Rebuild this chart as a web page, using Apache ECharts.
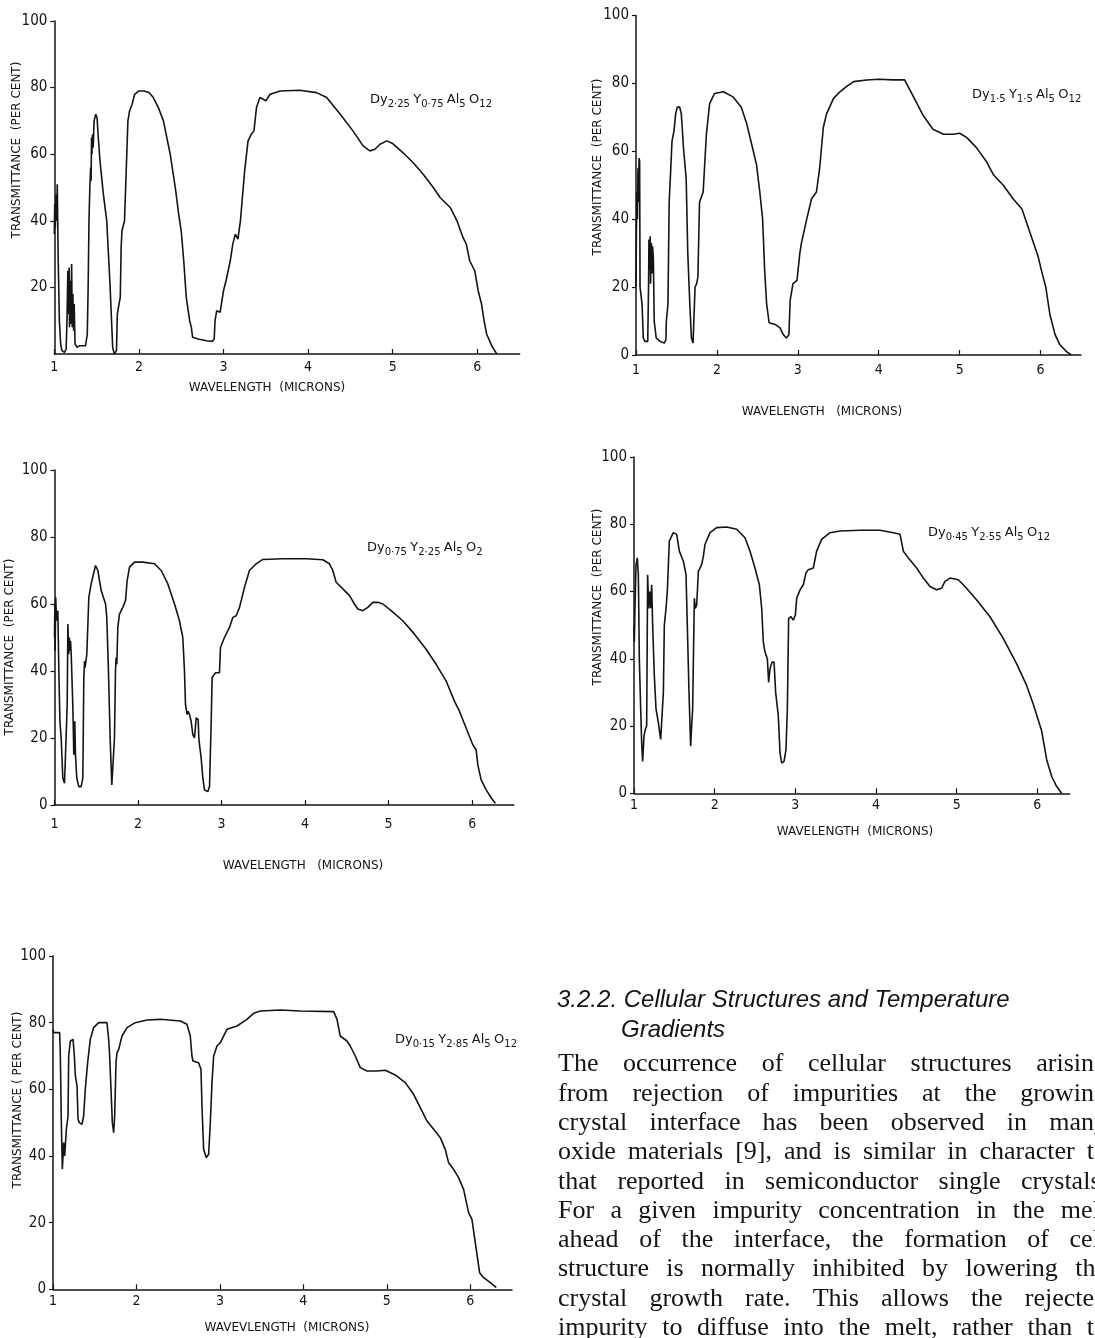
<!DOCTYPE html>
<html><head><meta charset="utf-8">
<script src="https://cdn.jsdelivr.net/npm/echarts@6/dist/echarts.min.js"></script>
<style>html,body{margin:0;padding:0;background:#fff}#c{width:1095px;height:1338px}</style>
</head><body><div id="c"></div>
<script>
// ---------- DATA ----------
const xTicks = [1, 2, 3, 4, 5, 6];
const yTicks = [0, 20, 40, 60, 80, 100];
const yTicksNoZero = [20, 40, 60, 80, 100];

// Dy2.25 Y0.75 Al5 O12  [wavelength (microns), transmittance (%)]
const dy225 = [[1.0,36],[1.005,45],[1.012,38],[1.02,48],[1.028,40],[1.035,51],[1.045,30],[1.06,10],[1.075,3],[1.09,1],[1.12,0.5],[1.14,1.5],[1.15,10],[1.16,25],[1.165,12],[1.175,26],[1.18,8],[1.19,22],[1.195,9],[1.205,27],[1.212,8],[1.22,18],[1.228,7],[1.235,15],[1.245,3],[1.27,2],[1.3,2.5],[1.37,2.5],[1.39,6],[1.40,20],[1.41,40],[1.42,50],[1.43,56],[1.435,52],[1.44,65],[1.445,60],[1.452,66],[1.46,62],[1.47,70],[1.49,72],[1.505,71],[1.52,65],[1.54,58],[1.58,48],[1.62,40],[1.64,30],[1.66,20],[1.68,8],[1.69,2],[1.71,0],[1.735,1],[1.745,12],[1.765,15],[1.78,17],[1.79,32],[1.80,37],[1.83,40],[1.85,55],[1.87,70],[1.89,73],[1.92,75],[1.95,78],[2.0,79],[2.06,79],[2.12,78.5],[2.17,77],[2.23,74],[2.29,70],[2.33,65],[2.37,60],[2.43,50],[2.47,42],[2.5,37],[2.53,28],[2.56,17],[2.6,10],[2.62,8],[2.635,5],[2.7,4.5],[2.8,4],[2.87,3.8],[2.89,4.5],[2.9,10],[2.92,13],[2.96,12.5],[2.98,12.5],[3.0,19],[3.03,22],[3.08,28],[3.11,33],[3.14,36],[3.17,34.5],[3.2,40],[3.25,55],[3.29,64],[3.33,66],[3.36,67],[3.39,74],[3.43,77],[3.47,76.5],[3.50,76],[3.55,78],[3.67,79],[3.9,79.2],[4.1,78.5],[4.22,77],[4.3,74.5],[4.38,72],[4.53,67],[4.65,62.5],[4.73,61],[4.79,61.5],[4.85,63],[4.93,64],[5.0,63.2],[5.12,60.5],[5.24,57.5],[5.36,54],[5.48,50],[5.56,47],[5.68,44],[5.76,40],[5.83,35],[5.87,33],[5.91,28],[5.97,25],[6.01,19],[6.05,15],[6.08,10],[6.11,6],[6.17,2.5],[6.23,0]];

// Dy1.5 Y1.5 Al5 O12
const dy15 = [[1.0,20],[1.005,36],[1.012,48],[1.018,40],[1.025,55],[1.03,45],[1.038,58],[1.045,57],[1.05,20],[1.06,18],[1.075,15],[1.09,5],[1.11,4],[1.145,4],[1.155,20],[1.16,34],[1.168,25],[1.175,35],[1.18,21],[1.19,33],[1.197,24],[1.205,32],[1.215,28],[1.225,10],[1.25,5],[1.3,4],[1.35,3.5],[1.37,4.5],[1.375,10],[1.395,15],[1.41,45],[1.43,55],[1.445,63],[1.47,66],[1.49,71],[1.51,73],[1.54,73],[1.56,71],[1.59,60],[1.62,52],[1.64,30],[1.665,15],[1.685,5],[1.705,3.5],[1.725,4],[1.73,20],[1.75,21],[1.765,23],[1.785,45],[1.83,48],[1.87,65],[1.91,74],[1.97,77],[2.08,77.5],[2.2,76],[2.3,73],[2.37,68],[2.43,62],[2.49,56],[2.53,48],[2.565,40],[2.59,25],[2.615,15],[2.645,9.5],[2.72,9],[2.78,8],[2.82,6],[2.86,5],[2.89,6],[2.905,16],[2.94,21],[2.99,22],[3.025,30],[3.045,33],[3.11,40],[3.17,46],[3.23,48],[3.27,55],[3.315,67],[3.355,71],[3.44,75.5],[3.52,77.5],[3.6,79],[3.69,80.5],[3.85,81],[4.0,81.2],[4.18,81],[4.32,81],[4.43,76],[4.55,70.5],[4.67,66.5],[4.8,65],[4.92,65],[5.0,65.3],[5.09,64],[5.21,61],[5.33,57],[5.42,53],[5.54,50],[5.66,46],[5.77,43],[5.87,36],[5.97,29],[6.01,25],[6.065,20],[6.115,12],[6.18,6],[6.24,3],[6.32,1],[6.38,0]];

// Dy0.75 Y2.25 Al5 O2
const dy075 = [[1.0,50],[1.004,60],[1.008,46],[1.014,62],[1.025,55],[1.04,58],[1.052,40],[1.065,25],[1.08,20],[1.10,8],[1.12,6.5],[1.14,7],[1.152,30],[1.16,54],[1.17,45],[1.178,50],[1.185,46],[1.192,49],[1.2,45],[1.219,30],[1.231,15],[1.243,25],[1.251,15],[1.267,8],[1.291,5.5],[1.319,5.5],[1.339,8],[1.351,38],[1.36,43],[1.365,41],[1.371,42],[1.387,45],[1.411,62],[1.439,66],[1.491,71.5],[1.519,70],[1.559,64],[1.611,60],[1.626,56],[1.646,40],[1.666,20],[1.686,6],[1.706,5.5],[1.718,20],[1.73,40],[1.738,44],[1.746,42],[1.758,53],[1.778,57],[1.818,59],[1.85,61],[1.87,67],[1.898,71],[1.958,72.5],[2.057,72.5],[2.197,72],[2.277,70],[2.357,66],[2.437,60],[2.496,55],[2.536,50],[2.556,40],[2.568,30],[2.588,27],[2.6,28],[2.616,27],[2.636,25],[2.656,21],[2.676,20],[2.696,26],[2.712,26],[2.72,25.5],[2.728,20],[2.736,18],[2.756,14],[2.776,8],[2.796,4.5],[2.836,4],[2.856,5.5],[2.876,25],[2.887,38],[2.927,39.5],[2.975,39.5],[2.987,47],[3.035,50],[3.095,53],[3.135,56],[3.175,56.5],[3.215,59],[3.275,65],[3.334,70],[3.414,72],[3.494,73.3],[3.733,73.5],[4.013,73.5],[4.212,73.2],[4.292,72],[4.332,70],[4.372,66.5],[4.452,64.5],[4.532,62.5],[4.591,60],[4.631,58.5],[4.691,58],[4.751,59],[4.811,60.5],[4.871,60.5],[4.931,60],[5.03,58],[5.17,55],[5.31,51],[5.449,46.5],[5.569,42],[5.689,37],[5.788,31],[5.848,28],[5.928,23],[6.008,18],[6.048,16.5],[6.068,12],[6.108,7.5],[6.168,4.5],[6.232,2],[6.279,0.5]];

// Dy0.45 Y2.55 Al5 O12
const dy045 = [[1.0,50],[1.004,45],[1.012,55],[1.025,68],[1.041,70],[1.054,65],[1.066,40],[1.083,25],[1.095,15],[1.107,9.5],[1.124,17],[1.14,19],[1.157,20],[1.165,50],[1.169,65],[1.182,55],[1.198,60],[1.207,55],[1.219,62],[1.231,50],[1.252,35],[1.273,25],[1.302,21],[1.331,16],[1.347,16.5],[1.364,30],[1.376,50],[1.397,55],[1.413,60],[1.438,75],[1.488,77.5],[1.529,77],[1.562,72],[1.612,69],[1.645,65],[1.661,50],[1.682,30],[1.702,14],[1.715,20],[1.727,25],[1.748,58],[1.76,55],[1.777,56],[1.798,66],[1.839,68],[1.86,70.5],[1.88,74],[1.942,77.5],[2.025,79],[2.149,79.2],[2.273,78.5],[2.376,76],[2.438,72],[2.5,67],[2.554,62],[2.583,55],[2.603,45],[2.624,42],[2.636,42.5],[2.653,40],[2.669,33],[2.686,37],[2.711,39],[2.736,39],[2.756,30],[2.789,23],[2.81,12],[2.831,9],[2.86,9.5],[2.884,13],[2.901,25],[2.917,52],[2.946,52.5],[2.975,51.5],[3.0,53],[3.017,58],[3.058,60.5],[3.099,62],[3.132,65.5],[3.161,66.5],[3.223,67],[3.264,72],[3.326,75.5],[3.43,77.5],[3.554,78],[3.802,78.2],[4.05,78.2],[4.215,77.5],[4.298,77],[4.339,72],[4.401,70],[4.504,67],[4.587,64],[4.669,61.5],[4.752,60.5],[4.814,61],[4.855,63],[4.917,64],[5.021,63.5],[5.103,61.5],[5.248,57.5],[5.413,52.5],[5.579,46],[5.744,38.5],[5.868,32],[5.95,26.5],[6.054,18.5],[6.116,10],[6.178,5],[6.24,2],[6.302,0]];

// Dy0.15 Y2.85 Al5 O12
const dy015 = [[1.0,78],[1.008,77],[1.08,77],[1.088,70],[1.1,50],[1.112,36],[1.128,44],[1.14,40],[1.16,48],[1.18,52],[1.188,70],[1.208,74.5],[1.24,75],[1.256,70],[1.268,64],[1.288,61],[1.3,51],[1.315,50],[1.347,49.5],[1.367,52],[1.387,60],[1.415,68],[1.447,75],[1.487,78.5],[1.547,80],[1.647,80],[1.667,75],[1.679,70],[1.695,60],[1.711,50],[1.727,47],[1.739,52],[1.755,68],[1.767,71],[1.787,72],[1.827,76],[1.887,78.5],[1.986,80],[2.126,80.8],[2.286,81],[2.526,80.5],[2.605,79.5],[2.645,76],[2.665,70],[2.677,68.5],[2.745,68],[2.773,66],[2.785,55],[2.805,42],[2.837,39.5],[2.865,40.5],[2.885,50],[2.905,62],[2.925,70],[2.965,73],[3.005,74],[3.085,78],[3.204,79],[3.324,81],[3.404,82.8],[3.484,83.5],[3.724,83.8],[3.963,83.5],[4.363,83.3],[4.403,81],[4.442,76],[4.522,74.5],[4.562,73],[4.622,70],[4.682,66.5],[4.762,65.5],[4.882,65.5],[4.982,65.7],[5.101,64.3],[5.221,62],[5.321,58.5],[5.401,54.5],[5.481,50.5],[5.561,48],[5.641,45.5],[5.7,42],[5.74,38],[5.8,36],[5.86,33.5],[5.92,30],[5.98,23],[6.02,21],[6.06,14],[6.112,5],[6.16,3.5],[6.24,2],[6.312,0.5]];

// formula labels: [element, subscript] pairs
const formula1 = [['Dy','2·25'],['Y','0·75'],['Al','5'],['O','12']];
const formula2 = [['Dy','1·5'],['Y','1·5'],['Al','5'],['O','12']];
const formula3 = [['Dy','0·75'],['Y','2·25'],['Al','5'],['O','2']];
const formula4 = [['Dy','0·45'],['Y','2·55'],['Al','5'],['O','12']];
const formula5 = [['Dy','0·15'],['Y','2·85'],['Al','5'],['O','12']];

const xNames = ['WAVELENGTH  (MICRONS)','WAVELENGTH   (MICRONS)','WAVELENGTH   (MICRONS)','WAVELENGTH  (MICRONS)','WAVEVLENGTH  (MICRONS)'];
const yNames = ['TRANSMITTANCE  (PER CENT)','TRANSMITTANCE  (PER CENT)','TRANSMITTANCE  (PER CENT)','TRANSMITTANCE  (PER CENT)','TRANSMITTANCE ( PER CENT)'];

const headingLines = ['3.2.2. Cellular Structures and Temperature','Gradients'];
const paragraphLines = [
  'The occurrence of cellular structures arising',
  'from rejection of impurities at the growing',
  'crystal interface has been observed in many',
  'oxide materials [9], and is similar in character to',
  'that reported in semiconductor single crystals.',
  'For a given impurity concentration in the melt',
  'ahead of the interface, the formation of cell',
  'structure is normally inhibited by lowering the',
  'crystal growth rate. This allows the rejected',
  'impurity to diffuse into the melt, rather than to'
];

// ---------- LAYOUT ----------
const INK = '#141414';
const tickFont = '"Liberation Sans Narrow","DejaVu Sans Condensed","DejaVu Sans",sans-serif';
const labelFont = '"DejaVu Sans",sans-serif';

const panels = [
  {grid:{left:54.3, top:21,  width:465.3, height:333}, xMax:6.5, data:dy225, yLab:yTicksNoZero, xMargin:6,  formula:formula1, fx:370, fy:100, xn:[267,388],  yn:[17,150]},
  {grid:{left:636,  top:15.4,width:445,   height:339.6}, xMax:6.5, data:dy15, yLab:yTicks, xMargin:8,  formula:formula2, fx:972, fy:95,  xn:[822,412],  yn:[598,167]},
  {grid:{left:54.5, top:470, width:459.4, height:335}, xMax:6.5, data:dy075, yLab:yTicks, xMargin:12, formula:formula3, fx:367, fy:548, xn:[303,866],  yn:[10,647]},
  {grid:{left:634,  top:457, width:435.6, height:336.3}, xMax:6.4, data:dy045, yLab:yTicks, xMargin:5,  formula:formula4, fx:928, fy:533, xn:[855,832],  yn:[598,597]},
  {grid:{left:53,   top:956, width:459,   height:333.3}, xMax:6.5, data:dy015, yLab:yTicks, xMargin:5,  formula:formula5, fx:395, fy:1040, xn:[287,1328], yn:[18,1100]}
];

const chart = echarts.init(document.getElementById('c'), null, {renderer:'canvas', width:1095, height:1338});

const graphics = [];
panels.forEach((p, i) => {
  const rich = p.formula.map(([e, s]) => '{m|' + e + '}{s|' + s + '}').join(' ');
  graphics.push({type:'text', x:p.fx, y:p.fy, silent:true, style:{
    text: rich, align:'left', verticalAlign:'middle', fill:INK,
    rich:{ m:{fontSize:13, fontFamily:labelFont, fill:INK}, s:{fontSize:10, fontFamily:labelFont, fill:INK, padding:[9,0,0,0]} }
  }});
  graphics.push({type:'text', x:p.xn[0], y:p.xn[1], silent:true, style:{
    text:xNames[i], font:'12px ' + labelFont, fill:INK, align:'center', verticalAlign:'middle'}});
  graphics.push({type:'text', x:p.yn[0], y:p.yn[1], rotation:Math.PI/2, silent:true, style:{
    text:yNames[i], font:'12px ' + labelFont, fill:INK, align:'center', verticalAlign:'middle'}});
});

// heading
graphics.push({type:'text', x:557, y:1000, silent:true, style:{text:headingLines[0], font:'italic 24px "Liberation Sans",Arial,sans-serif', fill:INK, align:'left', verticalAlign:'middle'}});
graphics.push({type:'text', x:621, y:1030, silent:true, style:{text:headingLines[1], font:'italic 24px "Liberation Sans",Arial,sans-serif', fill:INK, align:'left', verticalAlign:'middle'}});

// justified paragraph
const paraFont = '26px "Liberation Serif","Times New Roman",serif';
const mctx = document.createElement('canvas').getContext('2d');
mctx.font = paraFont;
const L = 558, R = 1107, lineY0 = 1064.5, lineH = 29.3;
paragraphLines.forEach((line, li) => {
  const words = line.split(' ');
  const widths = words.map(w => mctx.measureText(w).width);
  const total = widths.reduce((a, b) => a + b, 0);
  const space = mctx.measureText(' ').width;
  let gap = (R - L - total) / (words.length - 1);
  if (gap < space * 0.5) gap = space * 0.5;
  let x = L;
  words.forEach((w, wi) => {
    graphics.push({type:'text', x:x, y:lineY0 + li * lineH, silent:true, style:{text:w, font:paraFont, fill:INK, align:'left', verticalAlign:'middle'}});
    x += widths[wi] + gap;
  });
});

const option = {
  animation:false,
  backgroundColor:'#ffffff',
  grid: panels.map(p => Object.assign({containLabel:false}, p.grid)),
  xAxis: panels.map((p, i) => ({
    type:'value', gridIndex:i, min:1, max:p.xMax, interval:1,
    axisLine:{show:true, onZero:false, lineStyle:{color:INK, width:1.5}},
    axisTick:{show:true, inside:true, length:5, customValues:xTicks, lineStyle:{color:INK, width:1.2}},
    axisLabel:{show:true, customValues:xTicks, margin:p.xMargin, color:INK, fontSize:14, fontFamily:tickFont},
    splitLine:{show:false}
  })),
  yAxis: panels.map((p, i) => ({
    type:'value', gridIndex:i, min:0, max:100, interval:20,
    axisLine:{show:true, onZero:false, lineStyle:{color:INK, width:1.5}},
    axisTick:{show:true, inside:false, length:4, customValues:p.yLab, lineStyle:{color:INK, width:1.2}},
    axisLabel:{show:true, customValues:p.yLab, margin:7, color:INK, fontSize:15, fontFamily:tickFont},
    splitLine:{show:false}
  })),
  series: panels.map((p, i) => ({
    type:'line', xAxisIndex:i, yAxisIndex:i, data:p.data, showSymbol:false, symbol:'none',
    smooth:false, silent:true, lineStyle:{color:INK, width:1.6}
  })),
  graphic: graphics
};
chart.setOption(option);
</script></body></html>
